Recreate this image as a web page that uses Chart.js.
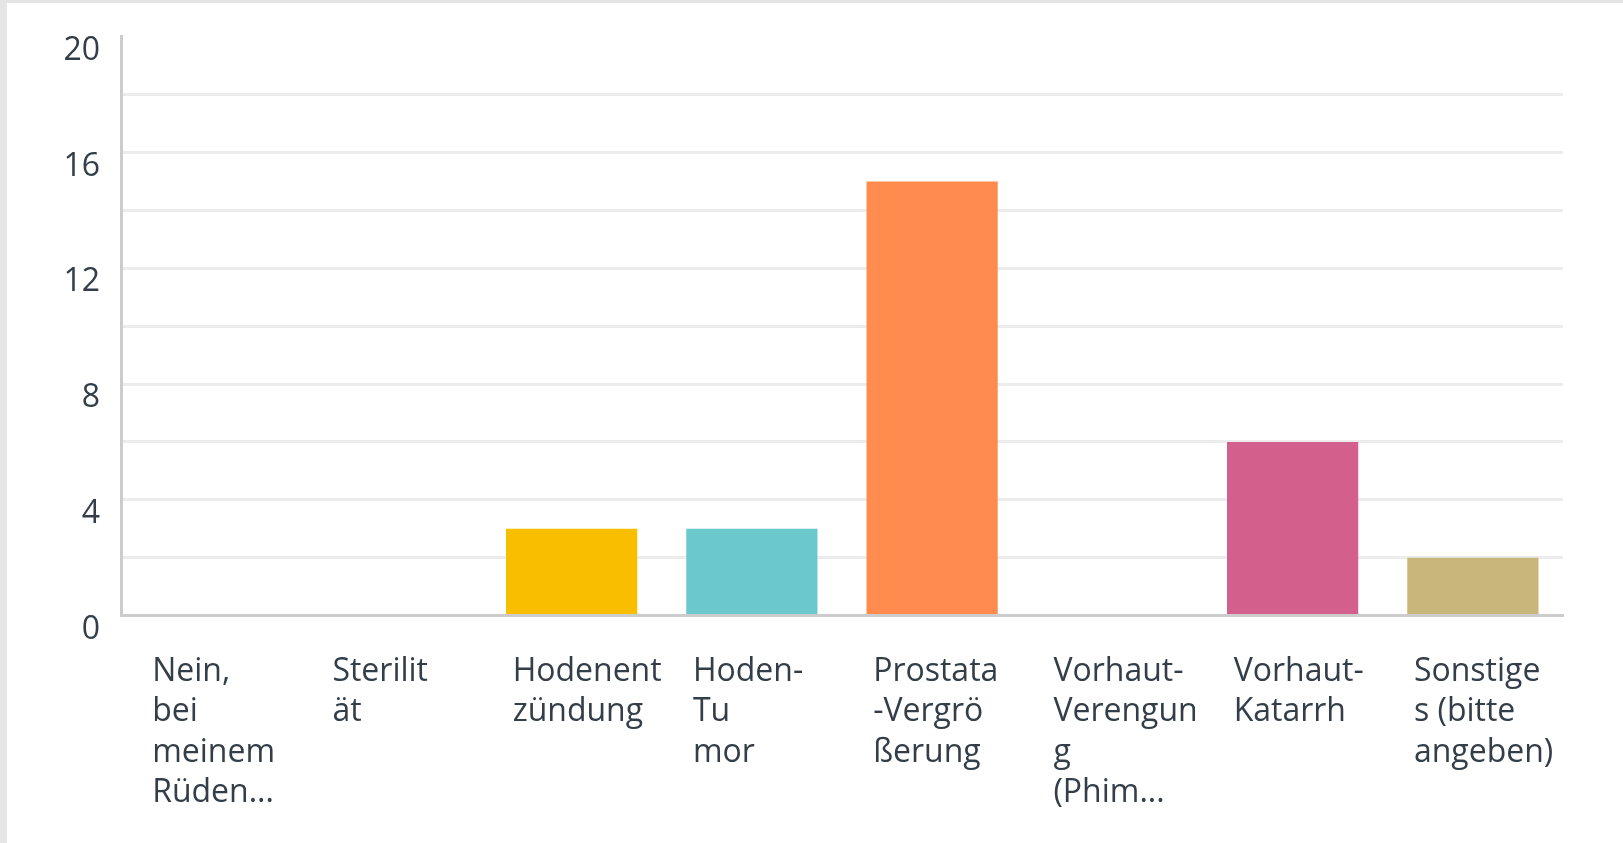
<!DOCTYPE html>
<html>
<head>
<meta charset="utf-8">
<script src="https://cdn.jsdelivr.net/npm/chart.js@4/dist/chart.umd.min.js"></script>
<style>
  html, body { margin: 0; padding: 0; background: #ffffff; }
  #frame { position: absolute; left: 0; top: 0; width: 1616px; height: 840px;
           border-left: 7px solid #e5e5e5; border-top: 3px solid #e5e5e5; background: #fff; }
  #wrap { position: relative; width: 1616px; height: 840px; }
</style>
</head>
<body>
<div id="frame"><div id="wrap"><canvas id="c"></canvas></div></div>
<script>
const categories = [
  ["Nein,", "bei", "meinem", "Rüden..."],
  ["Sterilit", "ät"],
  ["Hodenent", "zündung"],
  ["Hoden-", "Tu", "mor"],
  ["Prostata", "-Vergrö", "ßerung"],
  ["Vorhaut-", "Verengun", "g", "(Phim..."],
  ["Vorhaut-", "Katarrh"],
  ["Sonstige", "s (bitte", "angeben)"]
];
const counts = [0, 0, 3, 3, 15, 0, 6, 2];
const barColors = ["#00bf6f", "#507cb6", "#f9be00", "#6bc8cd", "#ff8b4f", "#7f7fff", "#d25f8c", "#c8b67a"];
const yTickValues = [0, 4, 8, 12, 16, 20];

const TEXT = "#333e48";
const FONT = "'Open Sans', 'Noto Sans', sans-serif";

new Chart(document.getElementById('c'), {
  type: 'bar',
  data: {
    labels: categories,
    datasets: [{
      data: counts,
      backgroundColor: barColors,
      borderWidth: 0,
      categoryPercentage: 0.8,
      barPercentage: 0.91
    }]
  },
  options: {
    responsive: true,
    maintainAspectRatio: false,
    animation: false,
    layout: { padding: { left: 0, right: 60, top: 33, bottom: 0 } },
    plugins: { legend: { display: false }, tooltip: { enabled: false } },
    scales: {
      x: {
        grid: { display: false, drawTicks: false },
        border: { display: true, color: '#cccccc', width: 3 },
        ticks: {
          autoSkip: false,
          maxRotation: 0,
          minRotation: 0,
          align: 'start',
          labelOffset: -59,
          padding: 36,
          color: TEXT,
          font: { family: FONT, size: 32, lineHeight: 1.266 }
        },
        afterFit: (s) => { s.height = 227.5; s.paddingLeft = 0; s.paddingRight = 0; }
      },
      y: {
        min: 0,
        max: 20,
        grid: {
          drawTicks: false,
          lineWidth: 3,
          color: (ctx) => (ctx.tick && (ctx.tick.value === 20 || ctx.tick.value === 0)) ? 'rgba(0,0,0,0)' : '#ececec'
        },
        border: { display: true, color: '#cccccc', width: 3 },
        ticks: {
          stepSize: 2,
          padding: 21,
          labelOffset: 14,
          color: TEXT,
          font: { family: FONT, size: 32, lineHeight: 0.8 },
          callback: (v) => yTickValues.includes(v) ? String(v) : ''
        },
        afterFit: (s) => { s.width = 114; }
      }
    }
  }
});
</script>
</body>
</html>
